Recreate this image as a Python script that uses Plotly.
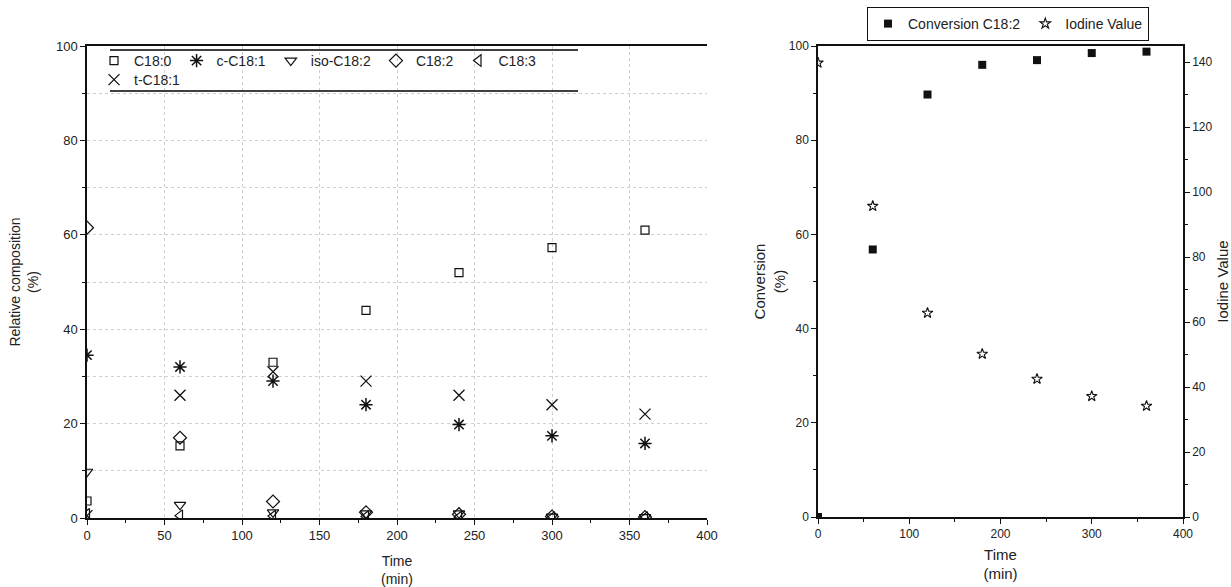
import plotly.graph_objects as go

time = [0, 60, 120, 180, 240, 300, 360]

c18_0 = [3.6, 15.3, 33.0, 44.0, 52.0, 57.3, 61.0]
c_c18_1 = [34.5, 32.0, 29.0, 24.0, 19.8, 17.4, 15.8]
iso_c18_2 = [9.8, 2.8, 1.2, 1.0, 1.0, 0.3, 0.2]
c18_2 = [61.5, 17.0, 3.5, 1.2, 0.8, 0.3, 0.2]
c18_3 = [0.8, 0.5, 0.4, 0.3, 0.2, 0.1, 0.1]
t_c18_1 = [0.5, 26.0, 31.0, 29.0, 26.0, 24.0, 22.0]

conversion = [0.0, 56.8, 89.7, 96.0, 97.0, 98.5, 98.8]
iodine = [139.8, 95.7, 62.8, 50.2, 42.5, 37.2, 34.2]

FONT = "Liberation Sans, Arial, sans-serif"
BLACK = "#111111"
W, H = 1231, 587

fig = go.Figure()

left_series = [
    ("C18:0", c18_0, "square-open", 8, 1.2, "legend"),
    ("c-C18:1", c_c18_1, "asterisk-open", 11, 1.5, "legend"),
    ("iso-C18:2", iso_c18_2, "triangle-down-open", 10, 1.2, "legend"),
    ("C18:2", c18_2, "diamond-open", 10, 1.2, "legend"),
    ("C18:3", c18_3, "triangle-left-open", 10, 1.2, "legend"),
    ("t-C18:1", t_c18_1, "x-thin-open", 11, 1.3, "legend2"),
]
for name, vals, sym, size, lw, leg in left_series:
    fig.add_trace(go.Scatter(
        x=time, y=vals, mode="markers", name=name,
        marker=dict(symbol=sym, size=size, color=BLACK,
                    line=dict(color=BLACK, width=lw)),
        xaxis="x", yaxis="y", legend=leg,
    ))

fig.add_trace(go.Scatter(
    x=time, y=conversion, mode="markers", name="Conversion C18:2",
    marker=dict(symbol="square", size=8, color=BLACK),
    xaxis="x2", yaxis="y2", legend="legend3",
))
fig.add_trace(go.Scatter(
    x=time, y=iodine, mode="markers", name="Iodine Value",
    marker=dict(symbol="star-open", size=8, color=BLACK,
                line=dict(color=BLACK, width=1.1)),
    xaxis="x2", yaxis="y3", legend="legend3",
))

ydom_l = [1 - 518 / H, 1 - 46 / H]
ydom_r = [1 - 517 / H, 1 - 46 / H]


def axis_common(fs):
    return dict(
        showline=True, linecolor=BLACK, linewidth=1.5,
        ticks="outside", ticklen=5, tickwidth=1, tickcolor=BLACK,
        tickfont=dict(family=FONT, size=fs, color="#222"),
        zeroline=False, automargin=False,
    )


GRID = dict(showgrid=True, gridcolor="#cfcfcf", griddash="dot", gridwidth=1)

fig.update_layout(
    width=W, height=H,
    margin=dict(l=0, r=0, t=0, b=0, autoexpand=False),
    paper_bgcolor="white", plot_bgcolor="white",
    font=dict(family=FONT, color="#222"),
    xaxis=dict(
        domain=[87 / W, 707 / W], range=[0, 400], dtick=50, mirror=True,
        minor=dict(dtick=25, ticks="outside", ticklen=3, tickcolor=BLACK),
        **GRID,
        title=dict(text="Time<br>(min)", font=dict(family=FONT, size=14), standoff=19),
        anchor="y", **axis_common(13),
    ),
    yaxis=dict(
        domain=ydom_l, range=[0, 100], dtick=20,
        minor=dict(dtick=10, ticks="outside", ticklen=3, tickcolor=BLACK,
                   showgrid=True, gridcolor="#cfcfcf", griddash="dot"),
        **GRID,
        title=dict(text="Relative composition<br>(%)", font=dict(family=FONT, size=14), standoff=14),
        anchor="x", **axis_common(13),
    ),
    xaxis2=dict(
        domain=[818 / W, 1183 / W], range=[0, 400], dtick=100, mirror=True,
        minor=dict(dtick=50, ticks="outside", ticklen=3, tickcolor=BLACK),
        showgrid=False,
        title=dict(text="Time<br>(min)", font=dict(family=FONT, size=15), standoff=9),
        anchor="y2", **axis_common(12),
    ),
    yaxis2=dict(
        domain=ydom_r, range=[0, 100], dtick=20,
        minor=dict(dtick=10, ticks="outside", ticklen=3, tickcolor=BLACK),
        showgrid=False,
        title=dict(text="Conversion<br>(%)", font=dict(family=FONT, size=15), standoff=0),
        anchor="x2", **axis_common(12),
    ),
    yaxis3=dict(
        range=[0, 145], dtick=20, overlaying="y2", side="right", anchor="x2",
        minor=dict(dtick=10, ticks="outside", ticklen=3, tickcolor=BLACK),
        showgrid=False,
        title=dict(text="Iodine Value", font=dict(family=FONT, size=15), standoff=6),
        **axis_common(12),
    ),
    legend=dict(
        orientation="h", x=94 / W, xanchor="left", y=1 - 45 / H, yanchor="top",
        bgcolor="rgba(0,0,0,0)", borderwidth=0,
        font=dict(family=FONT, size=14, color="#222"),
        itemwidth=30, tracegroupgap=0,
    ),
    legend2=dict(
        orientation="h", x=94 / W, xanchor="left", y=1 - 64 / H, yanchor="top",
        bgcolor="rgba(0,0,0,0)", borderwidth=0,
        font=dict(family=FONT, size=14, color="#222"),
        itemwidth=30,
    ),
    legend3=dict(
        orientation="h", x=1008 / W, xanchor="center", y=1 - 24 / H, yanchor="middle",
        bgcolor="white", bordercolor=BLACK, borderwidth=1,
        font=dict(family=FONT, size=14, color="#222"),
        itemwidth=30,
    ),
    shapes=[
        dict(type="line", xref="paper", yref="paper",
             x0=110 / W, x1=578 / W, y0=1 - 50 / H, y1=1 - 50 / H,
             line=dict(color="black", width=1.3)),
        dict(type="line", xref="paper", yref="paper",
             x0=110 / W, x1=578 / W, y0=1 - 91 / H, y1=1 - 91 / H,
             line=dict(color="black", width=1.3)),
    ],
)

fig.write_html(
    "out.html",
    config={"displayModeBar": False},
    post_script="document.body.style.margin='0';document.body.style.padding='0';",
)
